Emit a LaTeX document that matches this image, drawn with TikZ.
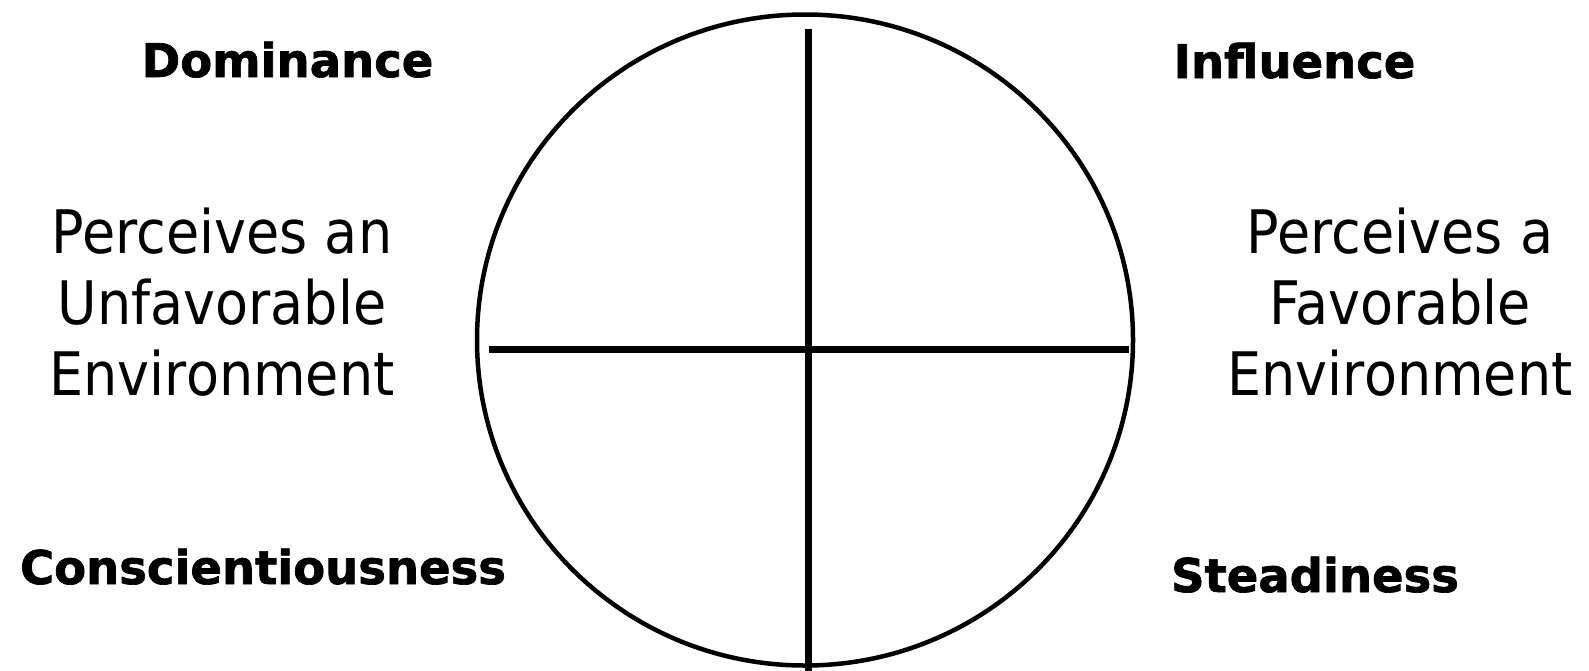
\documentclass[tikz,border=0pt]{standalone}
\usepackage{fontspec}
\setmainfont{DejaVu Sans}
\newfontfamily\envfont[FakeStretch=0.9]{DejaVu Sans}
\newfontfamily\traitfont[BoldFeatures={FakeBold=1.5}]{DejaVu Sans}
\usetikzlibrary{positioning}

\begin{document}
\begin{tikzpicture}[
    x=1pt, y=-1pt,
    trait/.style={anchor=base, inner sep=0pt, font=\fontsize{46.5}{55}\selectfont\traitfont\bfseries},
    envtext/.style={anchor=base, inner sep=0pt, align=center, font=\fontsize{60}{71}\selectfont\envfont},
    axisline/.style={line width=6.8pt, line cap=butt}
]
\fill[white] (0,0) rectangle (1589,670);
\useasboundingbox (0,0) rectangle (1589,670);
\draw[line width=4.5pt] (805,340) ellipse [x radius=328, y radius=325.5];
\coordinate (vtop) at (808.5,29);
\coordinate (vbot) at (808.5,672);
\coordinate (hleft) at (489,349.5);
\coordinate (hright) at (1129,349.5);
\draw[axisline] (vtop) -- (vbot);
\draw[axisline] (hleft) -- (hright);
\node[trait] (dom) at (287.5,77) {Dominance};
\node[trait] (inf) at (1294.5,78) {Influence};
\node[trait] (con) at (263,584) {Conscientiousness};
\node[trait] (ste) at (1315,592) {Steadiness};
\node[envtext] (unfav) at (222,395) {Perceives an\\Unfavorable\\Environment};
\node[envtext] (fav) at (1400,395) {Perceives a\\Favorable\\Environment};
\end{tikzpicture}
\end{document}
